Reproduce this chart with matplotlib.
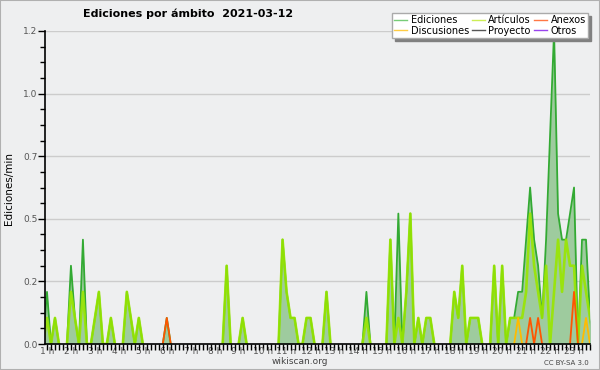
import numpy as np
import matplotlib.pyplot as plt
from matplotlib.lines import Line2D
from matplotlib.patches import Rectangle
from matplotlib.ticker import FixedLocator, MultipleLocator

# Edits per minute, 10-minute bins, one row per hour (0 h .. 23 h)
ediciones = [
    0, 0, 0, 0, 0, 0,
    .2, 0, .1, 0, 0, 0,
    .3, .1, 0, .4, 0, 0,
    .1, .2, 0, 0, .1, 0,
    0, 0, .2, .1, 0, .1,
    0, 0, 0, 0, 0, 0,
    .1, 0, 0, 0, 0, 0,
    0, 0, 0, 0, 0, 0,
    0, 0, 0, .3, 0, 0,
    0, .1, 0, 0, 0, 0,
    0, 0, 0, 0, 0, .4,
    .2, .1, .1, 0, 0, .1,
    .1, 0, 0, 0, .2, 0,
    0, 0, 0, 0, 0, 0,
    0, 0, .2, 0, 0, 0,
    0, 0, .4, 0, .5, 0,
    .2, .5, 0, .1, 0, .1,
    .1, 0, 0, 0, 0, 0,
    .2, .1, .3, 0, .1, .1,
    .1, 0, 0, 0, .3, 0,
    .3, 0, .1, .1, .2, .2,
    .4, .6, .4, .3, .1, .4,
    .8, 1.2, .5, .4, .4, .5,
    .6, 0, .4, .4, .1, 0,
]
articulos = [
    0, 0, 0, 0, 0, 0,
    .1, 0, .1, 0, 0, 0,
    .2, .1, 0, .2, 0, 0,
    .1, .2, 0, 0, .1, 0,
    0, 0, .2, .1, 0, .1,
    0, 0, 0, 0, 0, 0,
    0, 0, 0, 0, 0, 0,
    0, 0, 0, 0, 0, 0,
    0, 0, 0, .3, 0, 0,
    0, .1, 0, 0, 0, 0,
    0, 0, 0, 0, 0, .4,
    .2, .1, .1, 0, 0, .1,
    .1, 0, 0, 0, .2, 0,
    0, 0, 0, 0, 0, 0,
    0, 0, .1, 0, 0, 0,
    0, 0, .4, 0, .1, 0,
    .2, .5, 0, .1, 0, .1,
    .1, 0, 0, 0, 0, 0,
    .2, .1, .3, 0, .1, .1,
    .1, 0, 0, 0, .3, 0,
    .3, 0, .1, .1, .1, .1,
    .2, .5, .3, .2, .1, .3,
    0, .2, .4, .2, .4, .3,
    .3, 0, .3, .2, .1, 0,
]
# sparse series: time of bin -> edits per minute
anexos = {"06:00": .1, "21:10": .1, "21:30": .1, "23:00": .2}
discusiones = {"20:40": .1, "23:30": .1}
proyecto = {}
otros = {}

hour_labels = [f"{h} h" for h in range(1, 24)]


def expand(d):
    v = np.zeros(144)
    for t, val in d.items():
        h, m = t.split(":")
        v[int(h) * 6 + int(m) // 10] = val
    return v


def hide_flat_zero(v):
    v = np.array(v, dtype=float)
    out = v.copy()
    for i in range(len(v)):
        left = v[i - 1] if i > 0 else 0
        right = v[i + 1] if i < len(v) - 1 else 0
        if v[i] == 0 and left == 0 and right == 0:
            out[i] = np.nan
    return out


x = np.arange(144) / 6.0
bg = "#eeeff0"

fig = plt.figure(figsize=(6, 3.7), dpi=100, facecolor=bg)
ax = fig.add_axes([45 / 600, 26 / 370, 545 / 600, 313 / 370])
ax.set_facecolor(bg)

tot = np.array(ediciones, dtype=float)
ax.fill_between(x, 0, tot, color="#9ecb9e", lw=0, zorder=2)
ax.plot(x, hide_flat_zero(tot), color="#33aa33", lw=1.3, zorder=3)
ax.plot(x, hide_flat_zero(articulos), color="#99e600", lw=1.9, zorder=4,
        alpha=0.9)
ax.plot(x, hide_flat_zero(expand(discusiones)), color="#ffbb00", lw=1.3, zorder=5)
ax.plot(x, hide_flat_zero(expand(anexos)), color="#ff5500", lw=1.3, zorder=5)
ax.plot(x, hide_flat_zero(expand(proyecto)), color="#555555", lw=1.1, zorder=5)
ax.plot(x, hide_flat_zero(expand(otros)), color="#9933ff", lw=1.1, zorder=5)

ax.set_xlim(5.5 / 6, 142 / 6)
ax.set_ylim(0, 1.2)

yt = [0, 0.24, 0.48, 0.72, 0.96, 1.2]
ax.yaxis.set_major_locator(FixedLocator(yt))
ax.set_yticklabels([f"{v:.1f}" for v in yt])
ax.yaxis.set_minor_locator(MultipleLocator(0.06))
ax.xaxis.set_major_locator(FixedLocator(range(1, 24)))
ax.set_xticklabels(hour_labels)
ax.xaxis.set_minor_locator(MultipleLocator(1 / 6))

ax.tick_params(axis="y", which="major", length=5, width=1, pad=0.5,
               labelsize=6.5, labelcolor="#555555")
ax.tick_params(axis="y", which="minor", length=3.5, width=1)
ax.tick_params(axis="x", which="both", length=4, width=1, pad=-1.5,
               labelsize=6.5, labelcolor="#555555")

ax.grid(axis="y", color="#cccccc", lw=1, zorder=0)
ax.set_axisbelow(True)
for s in ["top", "right"]:
    ax.spines[s].set_visible(False)
for s in ["left", "bottom"]:
    ax.spines[s].set_linewidth(1.2)
    ax.spines[s].set_zorder(10)

fig.text(0.314, 0.962, "Ediciones por ámbito  2021-03-12", ha="center",
         va="center", fontsize=8, fontweight="bold")
fig.text(0.015, 0.49, "Ediciones/min", rotation=90, ha="center",
         va="center", fontsize=7.5)
fig.text(0.5, 0.023, "wikiscan.org", ha="center", va="center",
         fontsize=6.5, color="#444444")
fig.text(0.982, 0.019, "CC BY-SA 3.0", ha="right", va="center",
         fontsize=5, color="#444444")

handles = [
    Line2D([], [], color="#77cc77", lw=1),
    Line2D([], [], color="#ffcc44", lw=1),
    Line2D([], [], color="#ccee55", lw=1),
    Line2D([], [], color="#555555", lw=1),
    Line2D([], [], color="#ff7744", lw=1),
    Line2D([], [], color="#9944ee", lw=1),
]
names = ["Ediciones", "Discusiones", "Artículos", "Proyecto", "Anexos", "Otros"]
fig.legend(handles, names, loc="upper right", bbox_to_anchor=(593 / 600, 1 - 8 / 370),
           ncol=3, fontsize=7, frameon=True, fancybox=False, framealpha=1,
           facecolor="white", edgecolor="#aaaaaa",
           shadow={"color": "#808080", "alpha": 1},
           borderpad=0.25, labelspacing=0.05, handlelength=1.3,
           handletextpad=0.4, columnspacing=0.3)

fig.patches.append(Rectangle((0, 0), 1, 1, transform=fig.transFigure,
                             fill=False, edgecolor="#b0b0b0", lw=1.5))

fig.savefig("out.png", dpi=100, facecolor=bg)
